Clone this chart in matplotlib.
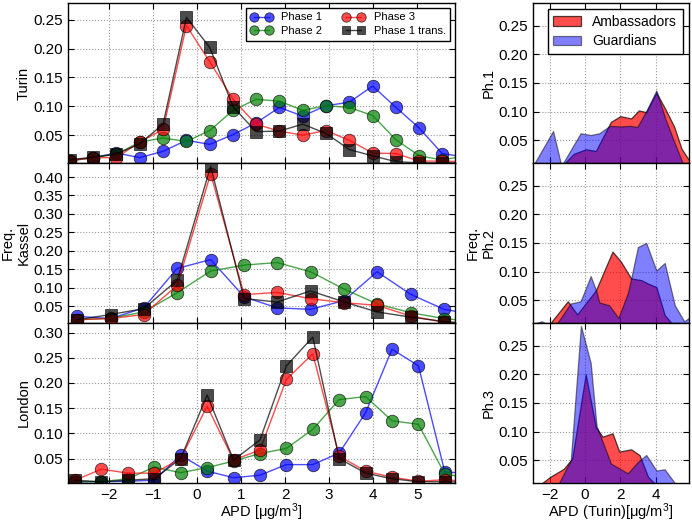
import numpy as np
import matplotlib
matplotlib.use("Agg")
import matplotlib.pyplot as plt

plt.rcParams['font.family'] = ['Liberation Sans', 'DejaVu Sans']
plt.rcParams['mathtext.fontset'] = 'custom'
plt.rcParams['mathtext.rm'] = 'Liberation Sans'
plt.rcParams['mathtext.it'] = 'Liberation Sans:italic'

# ---------------- data: left column (city histograms) ----------------
series_names = ["Phase 1", "Phase 2", "Phase 3", "Phase 1 trans."]
cities = ["Turin", "Freq.\nKassel", "London"]

turin_x = [-2.89, -2.36, -1.83, -1.30, -0.77, -0.24, 0.29, 0.82, 1.34, 1.87,
           2.40, 2.93, 3.46, 3.99, 4.52, 5.05, 5.57, 6.10]
turin_p1 = [0.006, 0.011, 0.019, 0.011, 0.022, 0.041, 0.034, 0.051, 0.071, 0.098,
            0.083, 0.101, 0.107, 0.135, 0.098, 0.062, 0.018, 0.012]
turin_p2 = [0.005, 0.011, 0.017, 0.038, 0.045, 0.039, 0.058, 0.093, 0.112, 0.109,
            0.093, 0.101, 0.098, 0.084, 0.042, 0.014, 0.007, 0.014]
turin_p3 = [0.006, 0.011, 0.011, 0.038, 0.060, 0.240, 0.177, 0.112, 0.069, 0.057,
            0.050, 0.058, 0.041, 0.019, 0.018, 0.005, 0.005, 0.004]
turin_p1t = [0.007, 0.012, 0.017, 0.035, 0.069, 0.254, 0.202, 0.099, 0.056, 0.057,
             0.069, 0.053, 0.025, 0.014, 0.004, 0.002, 0.002, 0.002]

kassel_x = [-2.72, -1.96, -1.21, -0.45, 0.31, 1.07, 1.82, 2.58, 3.34, 4.09,
            4.85, 5.61, 6.36]
kassel_p1 = [0.022, 0.016, 0.045, 0.152, 0.176, 0.075, 0.045, 0.041, 0.065, 0.143,
             0.082, 0.041, 0.026]
kassel_p2 = [0.013, 0.017, 0.034, 0.086, 0.145, 0.161, 0.168, 0.143, 0.096, 0.056,
             0.032, 0.016, 0.007]
kassel_p3 = [0.013, 0.016, 0.027, 0.106, 0.409, 0.081, 0.087, 0.070, 0.059, 0.052,
             0.023, 0.006, 0.000]
kassel_p1t = [0.013, 0.027, 0.043, 0.120, 0.429, 0.070, 0.061, 0.091, 0.061, 0.034,
              0.020, 0.008, 0.002]

london_x = [-2.77, -2.17, -1.57, -0.97, -0.37, 0.23, 0.83, 1.43, 2.03, 2.63,
            3.23, 3.83, 4.43, 5.03, 5.63, 6.23]
london_p1 = [0.004, 0.004, 0.005, 0.007, 0.057, 0.025, 0.012, 0.017, 0.038, 0.038,
             0.061, 0.141, 0.267, 0.234, 0.023, 0.021]
london_p2 = [0.004, 0.004, 0.010, 0.033, 0.022, 0.032, 0.045, 0.060, 0.070, 0.108,
             0.167, 0.173, 0.125, 0.118, 0.019, 0.011]
london_p3 = [0.007, 0.029, 0.021, 0.021, 0.050, 0.154, 0.047, 0.067, 0.207, 0.258,
             0.055, 0.025, 0.013, 0.005, 0.008, 0.004]
london_p1t = [0.007, 0.004, 0.007, 0.010, 0.050, 0.176, 0.047, 0.087, 0.234, 0.291,
              0.050, 0.021, 0.010, 0.004, 0.004, 0.003]

left_data = [
    (turin_x, [turin_p1, turin_p2, turin_p3, turin_p1t]),
    (kassel_x, [kassel_p1, kassel_p2, kassel_p3, kassel_p1t]),
    (london_x, [london_p1, london_p2, london_p3, london_p1t]),
]
left_ylims = [(0.0017, 0.279), (0.004, 0.438), (0.0015, 0.319)]
left_yticks = [[0.05, 0.10, 0.15, 0.20, 0.25],
               [0.05, 0.10, 0.15, 0.20, 0.25, 0.30, 0.35, 0.40],
               [0.05, 0.10, 0.15, 0.20, 0.25, 0.30]]
left_xticks = [-2, -1, 0, 1, 2, 3, 4, 5]

# ---------------- data: right column (Turin, by group) ----------------
groups = ["Ambassadors", "Guardians"]
phases = ["Ph.1", "Freq.\nPh.2", "Ph.3"]

ph1_amb_x = [-1.45, -0.63, 0.04, 0.61, 1.46, 1.99, 2.60, 3.03, 3.45, 4.02, 4.50,
             5.02, 5.44, 5.82, 6.10]
ph1_amb_y = [0.000, 0.026, 0.034, 0.031, 0.082, 0.092, 0.088, 0.102, 0.099, 0.133,
             0.106, 0.074, 0.035, 0.017, 0.012]
ph1_gua_x = [-2.95, -1.80, -1.33, -0.25, 0.32, 0.80, 1.40, 1.99, 2.55, 2.95, 3.45,
             4.02, 4.52, 5.05, 5.57]
ph1_gua_y = [0.004, 0.066, 0.005, 0.062, 0.059, 0.062, 0.075, 0.074, 0.075, 0.073,
             0.101, 0.137, 0.088, 0.045, 0.005]

ph2_amb_x = [-2.20, -0.97, -0.44, 0.61, 1.55, 2.03, 2.60, 3.17, 3.55, 4.02, 4.49,
             4.87, 4.95]
ph2_amb_y = [0.000, 0.048, 0.025, 0.067, 0.135, 0.117, 0.088, 0.085, 0.079, 0.073,
             0.024, 0.010, 0.000]
ph2_gua_x = [-2.95, -2.43, -2.14, -1.60, -0.82, -0.25, 0.32, 0.64, 0.80, 1.36,
             1.88, 2.41, 2.60, 2.98, 3.45, 4.02, 4.49, 5.06, 5.59, 5.90]
ph2_gua_y = [0.008, 0.013, 0.008, 0.008, 0.044, 0.048, 0.092, 0.066, 0.046, 0.041,
             0.019, 0.062, 0.088, 0.143, 0.150, 0.102, 0.115, 0.041, 0.013, 0.020]

ph3_amb_x = [-2.71, -2.33, -1.95, -1.19, -0.72, 0.04, 0.61, 0.99, 1.55, 1.93,
             2.60, 3.07, 3.55, 3.92]
ph3_amb_y = [0.003, 0.012, 0.021, 0.035, 0.053, 0.200, 0.108, 0.091, 0.097, 0.065,
             0.069, 0.059, 0.021, 0.009]
ph3_gua_x = [-1.48, -0.80, -0.23, 0.32, 0.65, 1.46, 2.41, 2.98, 3.45, 4.02, 4.49,
             5.06]
ph3_gua_y = [0.009, 0.050, 0.285, 0.220, 0.110, 0.044, 0.027, 0.047, 0.059, 0.032,
             0.034, 0.010]

right_data = [
    ((ph1_amb_x, ph1_amb_y), (ph1_gua_x, ph1_gua_y)),
    ((ph2_amb_x, ph2_amb_y), (ph2_gua_x, ph2_gua_y)),
    ((ph3_amb_x, ph3_amb_y), (ph3_gua_x, ph3_gua_y)),
]
right_ylim = (0.01, 0.29)
right_yticks = [0.05, 0.10, 0.15, 0.20, 0.25]
right_xticks = [-2, 0, 2, 4]
xlim = (-2.93, 5.86)

# ---------------- styling ----------------
colors = ['#0000ff', '#008000', '#ff0000', '#000000']
markers = ['o', 'o', 'o', 's']
msizes = [9, 9, 9, 8]

fig = plt.figure(figsize=(6.92, 5.22), dpi=100)

L_left, L_w = 68 / 692, 387 / 692
R_left, R_w = 533 / 692, 156 / 692
H = 160 / 522
bottoms = [1 - 163 / 522, 1 - 323 / 522, 1 - 483 / 522]


def style_axes(ax):
    ax.grid(True, color='0.6', linestyle=':', linewidth=0.8)
    ax.set_axisbelow(True)
    ax.tick_params(direction='in', top=True, right=True, length=4, width=0.8,
                   labelsize=11, pad=3.5)
    for sp in ax.spines.values():
        sp.set_linewidth(1.0)
        sp.set_color('k')


def fmt_int(v):
    return "\u2212%d" % -v if v < 0 else "%d" % v


for r in range(3):
    ax = fig.add_axes([L_left, bottoms[r], L_w, H])
    xs, ys_list = left_data[r]
    for name, ys, c, m, ms in zip(series_names, ys_list, colors, markers, msizes):
        ax.plot(xs, ys, color=c, marker=m, markersize=ms, linewidth=1.0,
                alpha=0.7, markeredgecolor='k', markeredgewidth=0.6, label=name)
    ax.set_xlim(*xlim)
    ax.set_ylim(*left_ylims[r])
    ax.set_yticks(left_yticks[r])
    ax.set_yticklabels(["%.2f" % v for v in left_yticks[r]])
    ax.set_xticks(left_xticks)
    style_axes(ax)
    ax.set_ylabel(cities[r], fontsize=10.5, labelpad=2)
    if r < 2:
        ax.set_xticklabels([])
    else:
        ax.set_xticklabels([fmt_int(v) for v in left_xticks])
        ax.set_xlabel("APD [\u03bcg/m$^3$]", fontsize=10.5, labelpad=-0.5)
    if r == 0:
        leg = ax.legend(loc='upper right', ncol=2, numpoints=2, fontsize=8,
                        fancybox=False, framealpha=1, edgecolor='k', markerscale=0.75,
                        borderaxespad=0.45, columnspacing=1.8, handlelength=2.0,
                        labelspacing=0.35, borderpad=0.4)
        leg.get_frame().set_linewidth(1.0)

for r in range(3):
    ax = fig.add_axes([R_left, bottoms[r], R_w, H])
    (ax_, ay_), (gx_, gy_) = right_data[r]
    ax.fill_between(ax_, ay_, 0, facecolor='#ff0000', alpha=0.7, edgecolor='k',
                    linewidth=0.9, label=groups[0])
    ax.fill_between(gx_, gy_, 0, facecolor='#0000ff', alpha=0.5, edgecolor='k',
                    linewidth=0.9, label=groups[1])
    ax.set_xlim(*xlim)
    ax.set_ylim(*right_ylim)
    ax.set_yticks(right_yticks)
    ax.set_yticklabels(["%.2f" % v for v in right_yticks])
    ax.set_xticks(right_xticks)
    style_axes(ax)
    ax.set_ylabel(phases[r], fontsize=10.5, labelpad=2)
    if r < 2:
        ax.set_xticklabels([])
    else:
        ax.set_xticklabels([fmt_int(v) for v in right_xticks])
        ax.set_xlabel("APD (Turin)[\u03bcg/m$^3$]", fontsize=10.5, labelpad=-0.5)
    if r == 0:
        leg = ax.legend(loc='upper right', fontsize=10, fancybox=False, framealpha=1,
                        edgecolor='k', borderaxespad=0.45, handlelength=2.0,
                        labelspacing=0.4, borderpad=0.4)
        leg.get_frame().set_linewidth(1.0)

fig.savefig("out.png", dpi=100)
